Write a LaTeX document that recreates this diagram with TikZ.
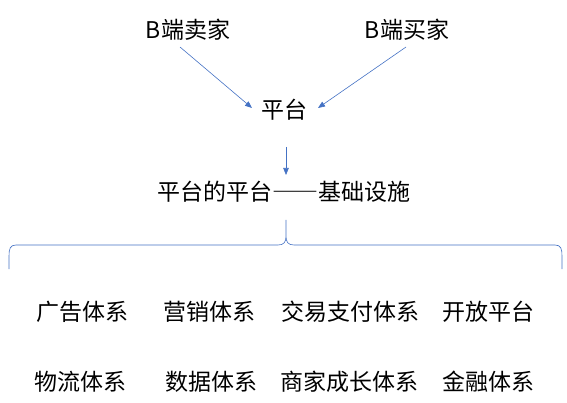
\documentclass[tikz,border=0pt]{standalone}
\usepackage{fontspec}
\setmainfont{Noto Sans CJK SC}
\usepackage{xcolor}
\usepackage{tikz}
\usetikzlibrary{positioning,arrows.meta}
\definecolor{lineblue}{HTML}{4472C4}
\newcommand{\fwdash}{{\addfontfeatures{RawFeature=+fwid}——}}
\tikzset{
  lbl/.style={inner sep=1pt, font=\fontsize{23pt}{26pt}\selectfont},
  arr/.style={draw=lineblue, line width=0.6pt, -{Triangle[length=7pt,width=5.5pt]}},
}
\begin{document}
\begin{tikzpicture}[x=1pt,y=-1pt]
            \useasboundingbox (0,0) rectangle (567,403);
            \node[lbl] (seller) at (188,30){B端卖家};
            \node[lbl] (buyer) at (407,30){B端买家};
            \node[lbl] (plat) at (284,110){平台};
            \node[lbl] (infra) at (284,192){平台的平台\fwdash 基础设施};
            \draw[arr] ([shift={(-8,17)}]seller.center) -- ([shift={(-32,-2)}]plat.center);
            \draw[arr] ([shift={(-1,17)}]buyer.center) -- ([shift={(34,-2)}]plat.center);
            \draw[arr] ([shift={(2,37)}]plat.center) -- ([shift={(2,-17)}]infra.center);
            % brace under the infrastructure line
            \coordinate (tip) at (286,220);
            \draw[lineblue, line width=0.6pt] (9,269) -- (9,256) .. controls (9,249) and (10,245) .. (16,245) -- (278,245) .. controls (284,245) and (286,242) .. (286,236) -- (tip) (286,236) .. controls (286,242) and (288,245) .. (294,245) -- (555,245) .. controls (561,245) and (562,249) .. (562,256) -- (562,269);
            \node[lbl] (ad) at (82,312){广告体系};
            \node[lbl] (mkt) at (209,312){营销体系};
            \node[lbl] (pay) at (350,312){交易支付体系};
            \node[lbl] (open) at (488,312){开放平台};
            \node[lbl] (logi) at (80,382){物流体系};
            \node[lbl] (data) at (211,382){数据体系};
            \node[lbl] (grow) at (349,382){商家成长体系};
            \node[lbl] (fin) at (488,382){金融体系};
        \end{tikzpicture}
\end{document}
